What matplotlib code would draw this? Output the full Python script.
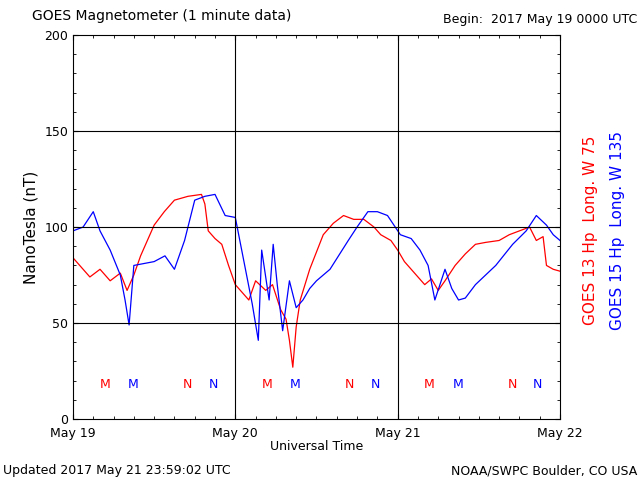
import matplotlib
matplotlib.use("Agg")
import matplotlib.pyplot as plt
import numpy as np

# hours since 2017 May 19 00:00 UTC
red_t = [0, 1, 2.5, 4, 5.5, 7, 8, 9, 10, 12, 13.5, 15, 17, 19, 19.5, 20, 21, 22, 23, 24,
         25, 26, 27, 28.5, 29.5, 30.7, 31.5, 32, 32.5, 33, 33.6, 35, 37, 38.5, 40, 41.5, 43,
         44.5, 45.5, 47, 48, 49, 50, 51, 52, 53, 54, 55, 56.5, 58, 59.5, 61, 63, 64.5, 66,
         67.5, 68.5, 69.5, 70, 71, 72]
red_v = [84, 80, 74, 78, 72, 76, 67, 75, 85, 101, 108, 114, 116, 117, 112, 98, 94, 91, 80, 70,
         66, 62, 72, 67, 70, 57, 52, 41, 27, 48, 62, 78, 96, 102, 106, 104, 104,
         100, 96, 93, 88, 82, 78, 74, 70, 73, 67, 72, 80, 86, 91, 92, 93, 96, 98,
         100, 93, 95, 80, 78, 77]
blue_t = [0, 1.5, 3, 4, 5.5, 7, 7.7, 8.3, 9, 10.5, 12, 13.6, 15, 16.5, 18, 19.5, 21, 22.5, 24,
          25.5, 26.5, 27.4, 27.9, 29, 29.6, 30.2, 31, 32, 33, 34, 35, 36, 38, 40.7, 42, 43.6,
          45, 46.5, 48.4, 50, 51.3, 52.5, 53.5, 55, 56, 57, 58, 59.5, 61, 62.5, 65, 67,
          68.5, 70, 71, 72]
blue_v = [98, 100, 108, 98, 88, 75, 62, 49, 80, 81, 82, 85, 78, 93, 114, 116, 117, 106, 105,
          78, 60, 41, 88, 62, 91, 70, 46, 72, 58, 62, 68, 72, 78, 93, 100, 108,
          108, 106, 96, 94, 88, 80, 62, 78, 68, 62, 63, 70, 75, 80, 91, 98,
          106, 101, 96, 93]
m_hours = [4.7, 8.9]     # red M, blue M
n_hours = [16.9, 20.7]   # red N, blue N
day_labels = ["May 19", "May 20", "May 21", "May 22"]

fig = plt.figure(figsize=(6.4, 4.8), dpi=100)
ax = fig.add_axes([0.114, 0.127, 0.761, 0.8])
ax.plot(red_t, red_v, color="red", lw=0.9)
ax.plot(blue_t, blue_v, color="blue", lw=0.9)
for d in range(3):
    ax.text(m_hours[0] + 24 * d, 18, "M", color="red", ha="center", va="center", fontsize=9)
    ax.text(m_hours[1] + 24 * d, 18, "M", color="blue", ha="center", va="center", fontsize=9)
    ax.text(n_hours[0] + 24 * d, 18, "N", color="red", ha="center", va="center", fontsize=9)
    ax.text(n_hours[1] + 24 * d, 18, "N", color="blue", ha="center", va="center", fontsize=9)
for y in [50, 100, 150]:
    ax.axhline(y, color="black", lw=0.8)
for x in [24, 48]:
    ax.axvline(x, color="black", lw=0.8)
ax.set_xlim(0, 72)
ax.set_ylim(0, 200)
ax.set_xticks([0, 24, 48, 72])
ax.set_xticklabels(day_labels, fontsize=9)
ax.set_xticks(np.arange(0, 73, 3), minor=True)
ax.set_yticks([0, 50, 100, 150, 200])
ax.set_yticks(np.arange(0, 201, 10), minor=True)
ax.tick_params(direction="in", which="both", top=True, right=True, labelsize=9)
ax.tick_params(axis="x", pad=6)
ax.set_ylabel("NanoTesla (nT)", fontsize=11)
ax.set_xlabel("Universal Time", fontsize=9, labelpad=0)

fig.text(0.05, 0.958, "GOES Magnetometer (1 minute data)", fontsize=10)
fig.text(0.995, 0.952, "Begin:  2017 May 19 0000 UTC", fontsize=9, ha="right")
fig.text(0.005, 0.012, "Updated 2017 May 21 23:59:02 UTC", fontsize=9)
fig.text(0.995, 0.012, "NOAA/SWPC Boulder, CO USA", fontsize=9, ha="right")
fig.text(0.922, 0.52, "GOES 13 Hp  Long. W 75", color="red", rotation=90, fontsize=11,
         ha="center", va="center")
fig.text(0.965, 0.52, "GOES 15 Hp  Long. W 135", color="blue", rotation=90, fontsize=11,
         ha="center", va="center")
fig.savefig("out.png")
